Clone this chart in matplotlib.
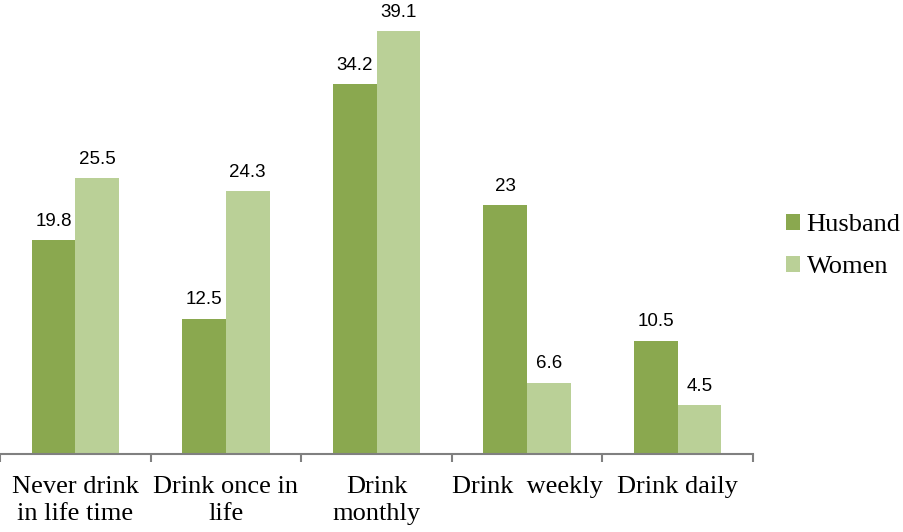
import matplotlib.pyplot as plt
import numpy as np

categories = ['Never drink\nin life time', 'Drink once in\nlife', 'Drink\nmonthly',
              'Drink  weekly', 'Drink daily']
husband = [19.8, 12.5, 34.2, 23, 10.5]
women = [25.5, 24.3, 39.1, 6.6, 4.5]

c_husband = '#8AA84F'
c_women = '#BAD097'

fig = plt.figure(figsize=(9.04, 5.32), dpi=100)
ax = fig.add_axes([0.0, 1 - 454 / 532, 753 / 904, 454 / 532])

x = np.arange(len(categories))
w = 0.29
b1 = ax.bar(x - w / 2, husband, w, color=c_husband, label='Husband')
b2 = ax.bar(x + w / 2, women, w, color=c_women, label='Women')

for bars, vals in ((b1, husband), (b2, women)):
    for rect, v in zip(bars, vals):
        ax.annotate('%g' % v, (rect.get_x() + rect.get_width() / 2, rect.get_height()),
                    xytext=(0, 7.5), textcoords='offset points', ha='center', va='bottom',
                    fontsize=13.5, family='Liberation Sans')

ax.set_xlim(-0.5, 4.5)
ax.set_ylim(0, 42.0)
for s in ('top', 'right', 'left'):
    ax.spines[s].set_visible(False)
ax.spines['bottom'].set_color('#808080')
ax.spines['bottom'].set_linewidth(1.5)
ax.set_yticks([])

ax.set_xticks(np.arange(-0.5, 5, 1))
ax.tick_params(axis='x', which='major', length=6, width=1.5, color='#808080', labelbottom=False)
ax.set_xticks(x, minor=True)
ax.set_xticklabels(categories, minor=True, family='Liberation Serif', fontsize=19,
                   linespacing=1.3)
ax.tick_params(axis='x', which='minor', length=0, pad=16)

fig.legend(handles=[b1, b2], loc='center left', bbox_to_anchor=(0.869, 0.537),
           frameon=False, prop={'family': 'Liberation Serif', 'size': 19},
           handlelength=0.55, handleheight=0.55, handletextpad=0.25, labelspacing=0.75,
           borderpad=0, borderaxespad=0)

fig.savefig('out.png', dpi=100)
